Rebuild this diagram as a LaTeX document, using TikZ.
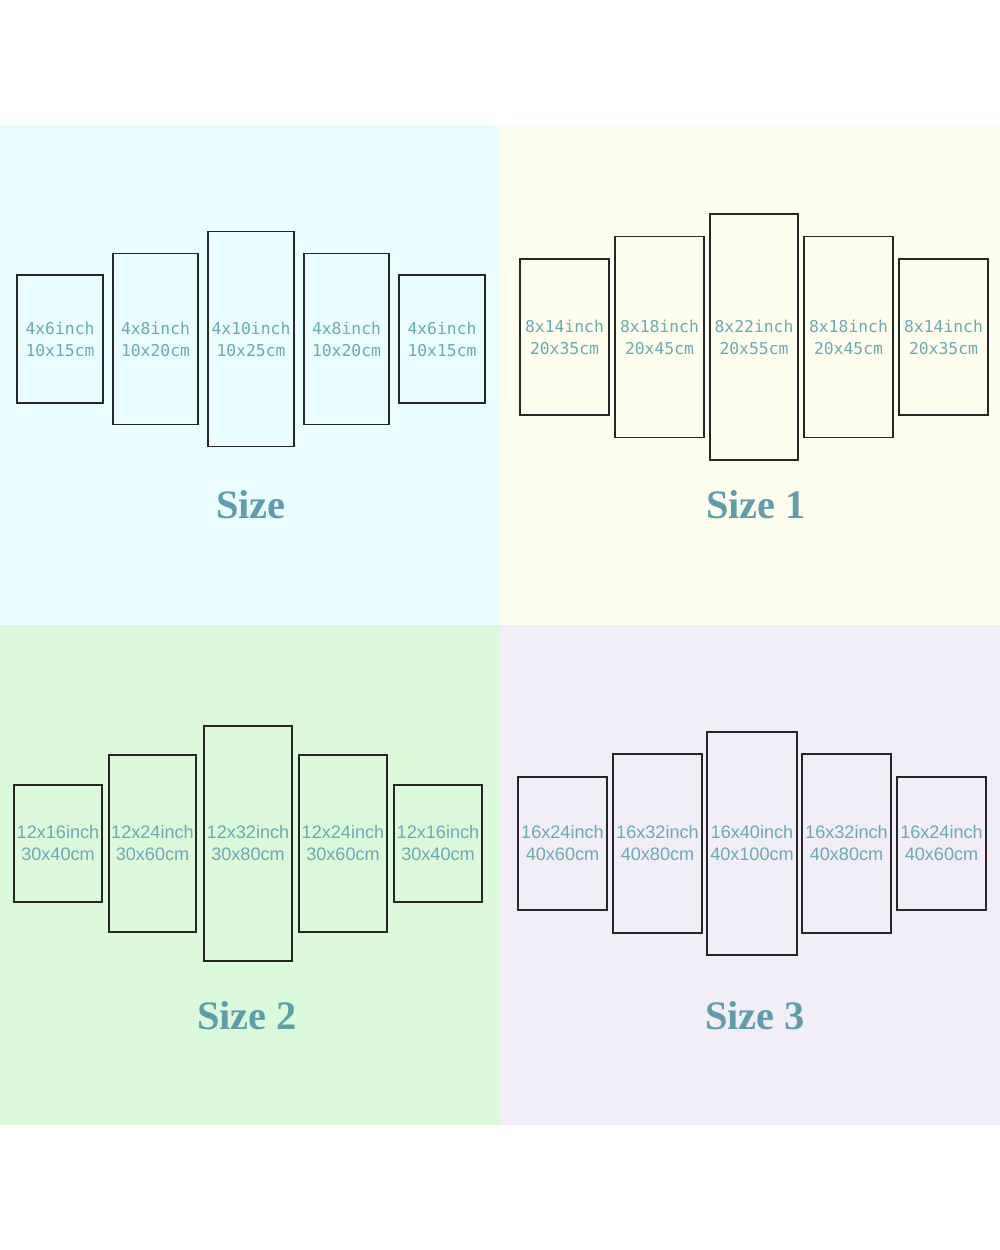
\documentclass[tikz,border=0pt]{standalone}
\usepackage{fontspec}
\setmainfont{Liberation Serif}
\newfontfamily\panelmono{DejaVu Sans Mono}
\newfontfamily\panelsans{Liberation Sans}
\usepackage{xcolor}
\usepackage{tikz}
\usetikzlibrary{positioning}

\definecolor{bgcyan}{HTML}{EBFEFF}
\definecolor{bgyellow}{HTML}{FEFEEE}
\definecolor{bggreen}{HTML}{DCFADB}
\definecolor{bglilac}{HTML}{F2EEF8}
\definecolor{labeltxt}{HTML}{6BA9B5}
\definecolor{titletxt}{HTML}{5E9EAA}

\begin{document}
\begin{tikzpicture}[x=0.2mm,y=-0.2mm,
  panel/.style={draw=black!85,line width=1.1pt,inner sep=0pt,align=center,text=labeltxt},
  monolab/.style={font=\panelmono\fontsize{9.3}{12.5}\selectfont},
  sanslab/.style={font=\panelsans\fontsize{10.3}{12.5}\selectfont},
  sizetitle/.style={text=titletxt,font=\bfseries\fontsize{23}{26}\selectfont}]
  \useasboundingbox[fill=white] (0,0) rectangle (1000,1250);
  % four coloured quarters
  \fill[bgcyan] (0,125) rectangle (500,625);
  \fill[bgyellow] (500,125) rectangle (1000,625);
  \fill[bggreen] (0,625) rectangle (500,1125);
  \fill[bglilac] (500,625) rectangle (1000,1125);

  % Size
  \foreach \i/\cx/\w/\h/\a/\b in {1/60/86/128/4x6inch/10x15cm, 2/155.5/85/171/4x8inch/10x20cm,
      3/251/86/215/4x10inch/10x25cm, 4/346.5/85/171/4x8inch/10x20cm, 5/442/86/128/4x6inch/10x15cm}
    \node[panel,monolab,minimum width=\w*0.2mm,minimum height=\h*0.2mm] (sa\i) at (\cx,339) {\a\\\b};
  \node[sizetitle] (ta) at (251,505) {Size};

  % Size 1
  \foreach \i/\cx/\w/\h/\a/\b in {1/564.5/89/156/8x14inch/20x35cm, 2/659.5/89/201/8x18inch/20x45cm,
      3/754/88/246/8x22inch/20x55cm, 4/848.5/89/201/8x18inch/20x45cm, 5/943.5/89/156/8x14inch/20x35cm}
    \node[panel,monolab,minimum width=\w*0.2mm,minimum height=\h*0.2mm] (sb\i) at (\cx,337) {\a\\\b};
  \node[sizetitle] (tb) at (756,505) {Size 1};

  % Size 2
  \foreach \i/\cx/\w/\h/\a/\b in {1/58/88/117/12x16inch/30x40cm, 2/152.5/87/177/12x24inch/30x60cm,
      3/248/88/235/12x32inch/30x80cm, 4/343/88/177/12x24inch/30x60cm, 5/438/88/117/12x16inch/30x40cm}
    \node[panel,sanslab,minimum width=\w*0.2mm,minimum height=\h*0.2mm] (sc\i) at (\cx,843.5) {\a\\\b};
  \node[sizetitle] (tc) at (247,1016) {Size 2};

  % Size 3
  \foreach \i/\cx/\w/\h/\a/\b in {1/562.5/89/133/16x24inch/40x60cm, 2/657.5/89/179/16x32inch/40x80cm,
      3/752/90/223/16x40inch/40x100cm, 4/846.5/89/179/16x32inch/40x80cm, 5/941.5/89/133/16x24inch/40x60cm}
    \node[panel,sanslab,minimum width=\w*0.2mm,minimum height=\h*0.2mm] (sd\i) at (\cx,843.5) {\a\\\b};
  \node[sizetitle] (td) at (755,1016) {Size 3};
\end{tikzpicture}
\end{document}
